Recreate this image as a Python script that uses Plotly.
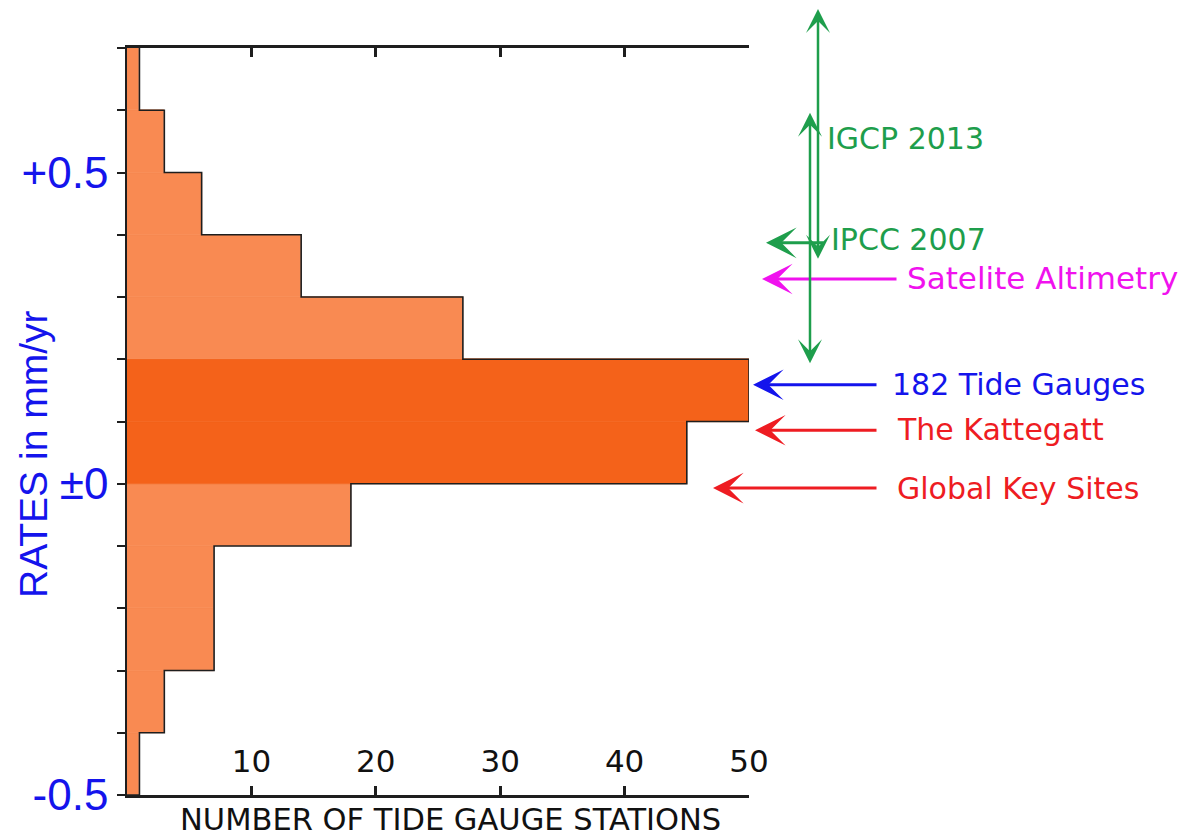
import numpy as np
import plotly.graph_objects as go

# ---------------- data ----------------
bin_lower = [-0.5, -0.4, -0.3, -0.2, -0.1, 0.0, 0.1, 0.2, 0.3, 0.4, 0.5, 0.6]
counts = [1, 3, 7, 7, 18, 45, 50, 27, 14, 6, 3, 1]
bin_width = 0.1
highlight = [False, False, False, False, False, True, True, False, False, False, False, False]

x_tick_vals = [10, 20, 30, 40, 50]
x_tick_text = ["10", "20", "30", "40", "50"]
y_tick_vals = [-0.5, -0.4, -0.3, -0.2, -0.1, 0.0, 0.1, 0.2, 0.3, 0.4, 0.5, 0.6, 0.7]
y_tick_text = ["-0.5", "", "", "", "", "±0", "", "", "", "", "+0.5", "", ""]

x_range = [0, 50]
y_range = [-0.5, 0.7]

# pointer annotations: label, rate pointed at
pointer_labels = ["IPCC 2007", "Satelite Altimetry", "182 Tide Gauges", "The Kattegatt", "Global Key Sites"]
pointer_rates = [0.387, 0.329, 0.159, 0.086, -0.007]
# vertical ranges (double arrows): top rate, bottom rate
range_tops = [0.763, 0.596]
range_bottoms = [0.359, 0.191]
range_labels = ["IGCP 2013"]

# ---------------- styling ----------------
LIGHT = "#F98A52"
DARK = "#F4621A"
GREEN = "#1E9E4C"
MAGENTA = "#F012EE"
BLUE = "#1414EC"
RED = "#EE1C22"
INK = "#1e1e1e"

OFF = 8  # page body margin of the browser
W, H = 1195 - OFF, 836 - OFF
ML, MR, MT, MB = 127 - OFF, 446, 48 - OFF, 41
PW = W - ML - MR
PH = H - MT - MB


def px_to_paper_x(px):
    return (px - OFF - ML) / PW


def px_to_paper_y(py):
    return (H - MB - (py - OFF)) / PH


def rate_to_paper(r):
    return (r - y_range[0]) / (y_range[1] - y_range[0])


centers = [lo + bin_width / 2 for lo in bin_lower]
colors = [DARK if h else LIGHT for h in highlight]

fig = go.Figure()
fig.add_trace(go.Bar(
    y=centers, x=counts, orientation="h", width=bin_width,
    marker=dict(color=colors, line=dict(color=colors, width=0.6)),
    showlegend=False, hoverinfo="skip",
))

# step outline
xs, ys = [0], [bin_lower[0]]
for lo, c in zip(bin_lower, counts):
    xs += [c, c]
    ys += [lo, lo + bin_width]
fig.add_trace(go.Scatter(
    x=xs, y=ys, mode="lines", line=dict(color=INK, width=1.6),
    cliponaxis=False, showlegend=False, hoverinfo="skip",
))
# dummy trace for the label axis
fig.add_trace(go.Scatter(x=x_tick_vals, y=[None] * len(x_tick_vals), xaxis="x2",
                         showlegend=False, hoverinfo="skip"))

annotations = []

# horizontal pointer arrows
pointer_colors = [GREEN, MAGENTA, BLUE, RED, RED]
pointer_sizes = [30, 31, 30, 30, 30]
head_px = [766, 762, 753, 755, 713]
tail_px = [825, 898, 878, 878, 878]
label_px = [(829, 240), (905, 278), (890, 385), (895, 430), (895, 488)]
for lab, r, col, fs, hx, tx, (lx, ly) in zip(pointer_labels, pointer_rates, pointer_colors,
                                              pointer_sizes, head_px, tail_px, label_px):
    annotations.append(dict(
        xref="paper", yref="paper", x=px_to_paper_x(hx), y=rate_to_paper(r),
        ax=tx - hx, ay=0, axref="pixel", ayref="pixel",
        showarrow=True, arrowhead=3, arrowsize=1.7, arrowwidth=3, arrowcolor=col,
        text="",
    ))
    annotations.append(dict(
        xref="paper", yref="paper", x=px_to_paper_x(lx), y=px_to_paper_y(ly),
        xanchor="left", yanchor="middle", showarrow=False, text=lab,
        font=dict(family="DejaVu Sans", size=fs, color=col),
    ))

# vertical double arrows
vx = [818, 810]
for x_px, top, bot in zip(vx, range_tops, range_bottoms):
    y_top = rate_to_paper(top)
    y_bot = rate_to_paper(bot)
    length_px = (y_top - y_bot) * PH
    annotations.append(dict(
        xref="paper", yref="paper", x=px_to_paper_x(x_px), y=y_top,
        ax=0, ay=length_px, axref="pixel", ayref="pixel",
        showarrow=True, arrowhead=3, startarrowhead=3, arrowside="end+start",
        arrowsize=1.6, startarrowsize=1.6, arrowwidth=2.5, arrowcolor=GREEN, text="",
    ))
annotations.append(dict(
    xref="paper", yref="paper", x=px_to_paper_x(825), y=px_to_paper_y(138),
    xanchor="left", yanchor="middle", showarrow=False, text=range_labels[0],
    font=dict(family="DejaVu Sans", size=30, color=GREEN),
))

# axis titles
annotations.append(dict(
    xref="paper", yref="paper", x=px_to_paper_x(450), y=px_to_paper_y(819),
    xanchor="center", yanchor="middle", showarrow=False,
    text="NUMBER OF TIDE GAUGE STATIONS",
    font=dict(family="DejaVu Sans", size=30.5, color="#111111"),
))
annotations.append(dict(
    xref="paper", yref="paper", x=px_to_paper_x(33), y=px_to_paper_y(455),
    xanchor="center", yanchor="middle", showarrow=False, textangle=-90,
    text="RATES in mm/yr",
    font=dict(family="Liberation Sans", size=39, color=BLUE),
))

fig.update_layout(
    template="none",
    width=W, height=H, autosize=False,
    margin=dict(l=ML, r=MR, t=MT, b=MB, pad=0),
    paper_bgcolor="white", plot_bgcolor="white",
    bargap=0, showlegend=False,
    annotations=annotations,
    xaxis=dict(
        range=x_range, tickvals=x_tick_vals, showticklabels=False,
        ticks="inside", ticklen=9, tickwidth=2.5, tickcolor=INK,
        showline=True, linecolor=INK, linewidth=2.5, mirror="ticks",
        showgrid=False, zeroline=False, automargin=False,
    ),
    xaxis2=dict(
        range=x_range, overlaying="x", anchor="free", position=0.074, side="bottom",
        tickvals=x_tick_vals, ticktext=x_tick_text, ticks="", showline=False,
        showgrid=False, zeroline=False, automargin=False,
        tickfont=dict(family="DejaVu Sans", size=31, color="#111111"),
    ),
    yaxis=dict(
        range=y_range, tickvals=y_tick_vals, ticktext=y_tick_text,
        ticks="outside", ticklen=8, tickwidth=2, tickcolor=INK,
        showline=True, linecolor=INK, linewidth=1.5, ticklabelstandoff=0,
        showgrid=False, zeroline=False, automargin=False,
        tickfont=dict(family="Liberation Sans", size=44, color=BLUE),
    ),
)

fig.write_html("out.html")
